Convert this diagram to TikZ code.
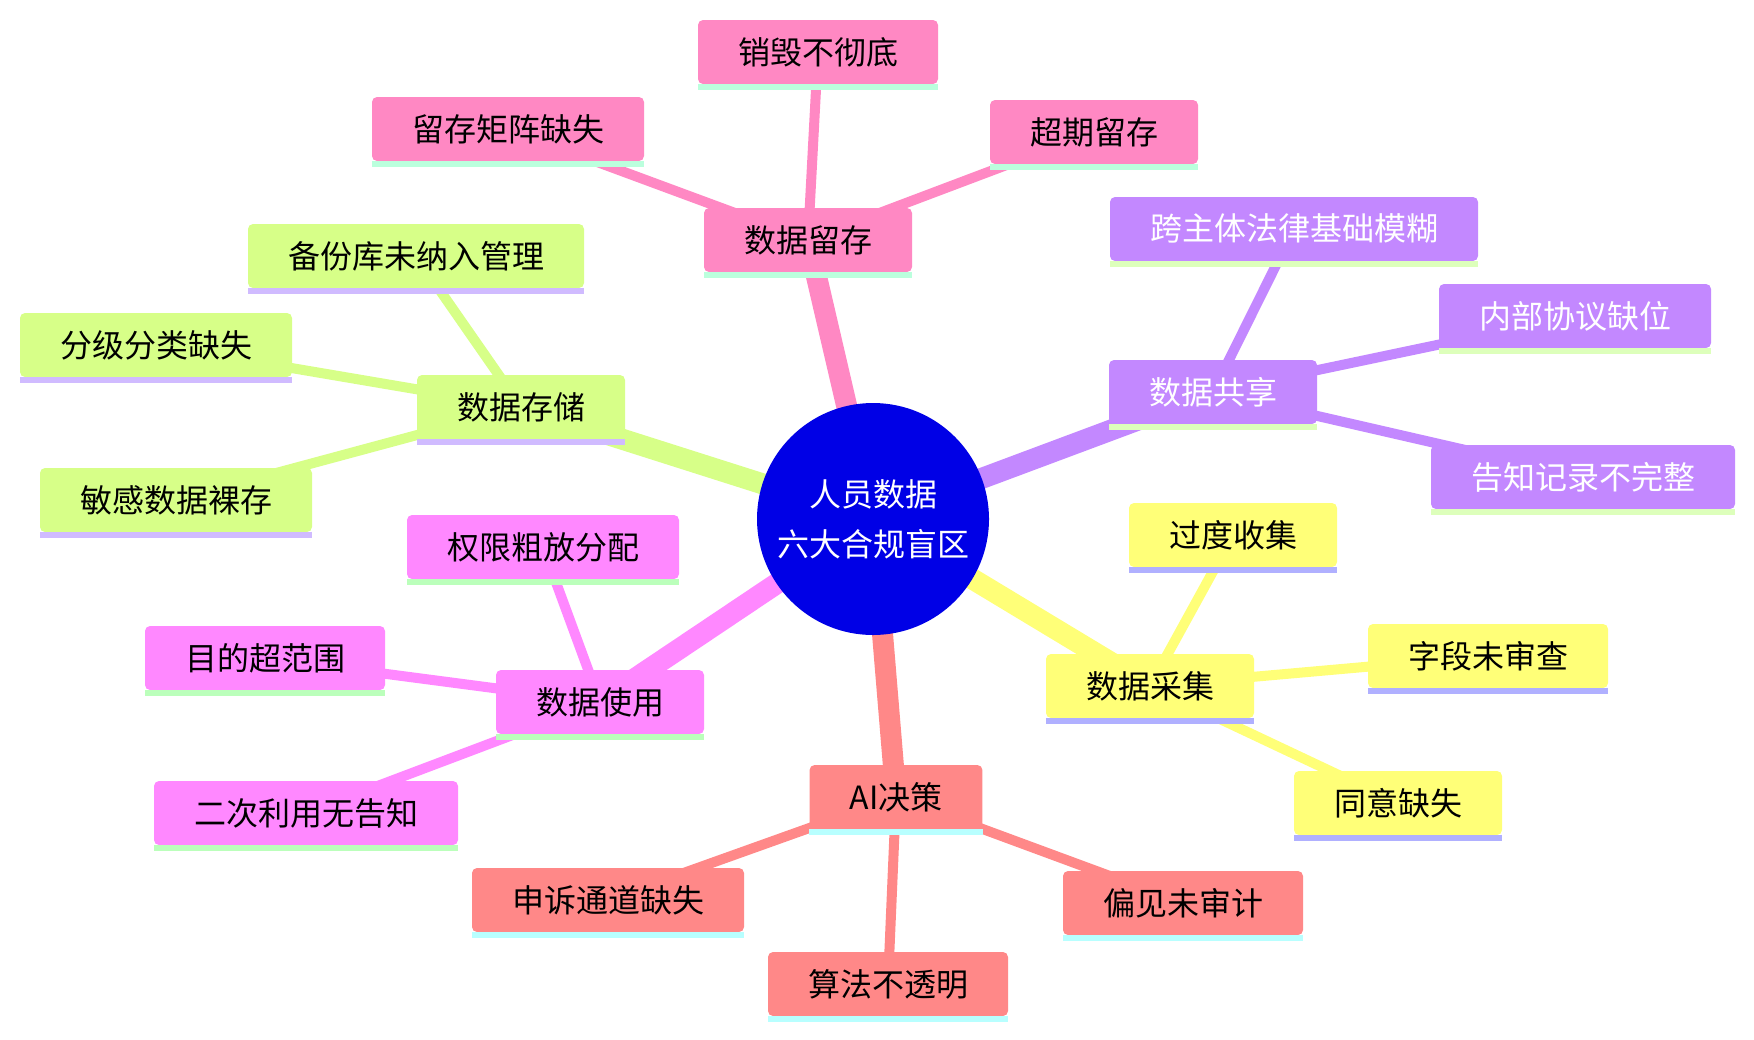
\documentclass[tikz,border=0pt]{standalone}
\usepackage{fontspec}
\newfontfamily\cjk{Noto Sans CJK SC}
\usetikzlibrary{backgrounds}

\definecolor{rootblue}{HTML}{0000E6}
\definecolor{cRet}{HTML}{FF88C3}
\definecolor{bRet}{HTML}{BBFFDD}
\definecolor{cShr}{HTML}{C388FF}
\definecolor{bShr}{HTML}{DDFFBB}
\definecolor{cCol}{HTML}{FFFF78}
\definecolor{bCol}{HTML}{B0B0FF}
\definecolor{cAI}{HTML}{FF8888}
\definecolor{bAI}{HTML}{B8FFFF}
\definecolor{cUse}{HTML}{FF88FF}
\definecolor{bUse}{HTML}{BBFFBB}
\definecolor{cSto}{HTML}{D7FF88}
\definecolor{bSto}{HTML}{D0BBFF}

\begin{document}
\begin{tikzpicture}[x=0.5pt, y=-0.5pt,
    font=\cjk\fontsize{16}{25}\selectfont,
    box/.style={rounded corners=2.5pt, minimum height=32pt, inner xsep=20pt, inner ysep=0pt},
    trunk/.style={line width=10.5pt},
    twig/.style={line width=5pt}]
    \useasboundingbox (0,0) rectangle (1754,1039);

    % 1. Nút gốc
    \node[circle, fill=rootblue, text=white, align=center, inner sep=0pt,
          minimum size=116pt] (root) at (873,519) {人员数据\\六大合规盲区};

    % 2. Nhánh: 数据留存
    \node[box, fill=cRet] (retain)  at (808,240) {数据留存};
    \node[box, fill=cRet] (purge)   at (818,52)  {销毁不彻底};
    \node[box, fill=cRet] (matrix)  at (508,129) {留存矩阵缺失};
    \node[box, fill=cRet] (overdue) at (1094,132) {超期留存};

    % 3. Nhánh: 数据共享
    \node[box, fill=cShr, text=white] (share)     at (1213,392) {数据共享};
    \node[box, fill=cShr, text=white] (crosslaw)  at (1294,229) {跨主体法律基础模糊};
    \node[box, fill=cShr, text=white] (agreement) at (1575,316) {内部协议缺位};
    \node[box, fill=cShr, text=white] (notice)    at (1583,477) {告知记录不完整};

    % 4. Nhánh: 数据采集
    \node[box, fill=cCol] (collect) at (1150,686) {数据采集};
    \node[box, fill=cCol] (excess)  at (1233,535) {过度收集};
    \node[box, fill=cCol] (fields)  at (1488,656) {字段未审查};
    \node[box, fill=cCol] (consent) at (1398,803) {同意缺失};

    % 5. Nhánh: AI决策
    \node[box, fill=cAI] (ai)     at (896,797) {AI决策};
    \node[box, fill=cAI] (bias)   at (1183,903) {偏见未审计};
    \node[box, fill=cAI] (opaque) at (888,984) {算法不透明};
    \node[box, fill=cAI] (appeal) at (608,900) {申诉通道缺失};

    % 6. Nhánh: 数据使用
    \node[box, fill=cUse] (use)     at (600,702) {数据使用};
    \node[box, fill=cUse] (perm)    at (543,547) {权限粗放分配};
    \node[box, fill=cUse] (purpose) at (265,658) {目的超范围};
    \node[box, fill=cUse] (reuse)   at (306,813) {二次利用无告知};

    % 7. Nhánh: 数据存储
    \node[box, fill=cSto] (store)   at (521,407) {数据存储};
    \node[box, fill=cSto] (backup)  at (416,256) {备份库未纳入管理};
    \node[box, fill=cSto] (grading) at (156,345) {分级分类缺失};
    \node[box, fill=cSto] (plain)   at (176,500) {敏感数据裸存};

    % 8. Vạch màu dưới mỗi hộp
    \foreach \n/\c in {retain/bRet, purge/bRet, matrix/bRet, overdue/bRet,
                       share/bShr, crosslaw/bShr, agreement/bShr, notice/bShr,
                       collect/bCol, excess/bCol, fields/bCol, consent/bCol,
                       ai/bAI, bias/bAI, opaque/bAI, appeal/bAI,
                       use/bUse, perm/bUse, purpose/bUse, reuse/bUse,
                       store/bSto, backup/bSto, grading/bSto, plain/bSto}
        \fill[\c] (\n.south west) rectangle ([yshift=-3pt]\n.south east);

    % 9. Các cạnh (nằm phía sau)
    \begin{pgfonlayer}{background}
        \draw[trunk, cRet] (root.center) -- (retain.center);
        \draw[trunk, cShr] (root.center) -- (share.center);
        \draw[trunk, cCol] (root.center) -- (collect.center);
        \draw[trunk, cAI]  (root.center) -- (ai.center);
        \draw[trunk, cUse] (root.center) -- (use.center);
        \draw[trunk, cSto] (root.center) -- (store.center);

        \draw[twig, cRet] (retain.center) -- (purge.center);
        \draw[twig, cRet] (retain.center) -- (matrix.center);
        \draw[twig, cRet] (retain.center) -- (overdue.center);
        \draw[twig, cShr] (share.center) -- (crosslaw.center);
        \draw[twig, cShr] (share.center) -- (agreement.center);
        \draw[twig, cShr] (share.center) -- (notice.center);
        \draw[twig, cCol] (collect.center) -- (excess.center);
        \draw[twig, cCol] (collect.center) -- (fields.center);
        \draw[twig, cCol] (collect.center) -- (consent.center);
        \draw[twig, cAI]  (ai.center) -- (bias.center);
        \draw[twig, cAI]  (ai.center) -- (opaque.center);
        \draw[twig, cAI]  (ai.center) -- (appeal.center);
        \draw[twig, cUse] (use.center) -- (perm.center);
        \draw[twig, cUse] (use.center) -- (purpose.center);
        \draw[twig, cUse] (use.center) -- (reuse.center);
        \draw[twig, cSto] (store.center) -- (backup.center);
        \draw[twig, cSto] (store.center) -- (grading.center);
        \draw[twig, cSto] (store.center) -- (plain.center);
    \end{pgfonlayer}
\end{tikzpicture}
\end{document}
